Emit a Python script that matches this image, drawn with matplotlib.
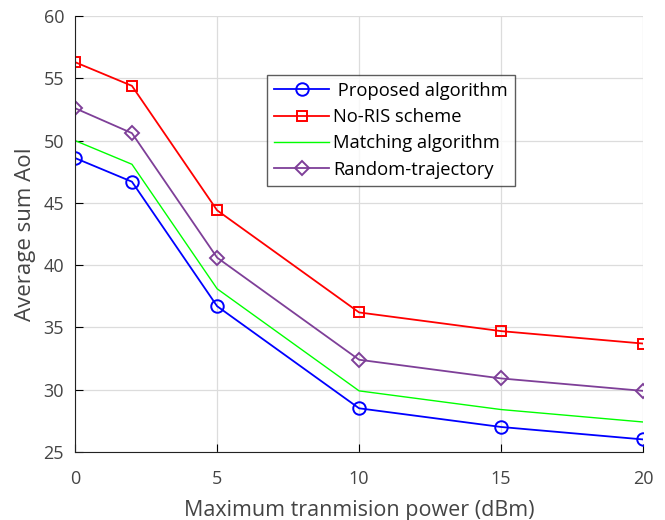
import matplotlib.pyplot as plt

# ── Data ──────────────────────────────────────────────────────────────────────
power_dbm = [0, 2, 5, 10, 15, 20]
proposed = [48.6, 46.7, 36.7, 28.5, 27.0, 26.0]
no_ris = [56.3, 54.4, 44.4, 36.2, 34.7, 33.7]
matching = [50.0, 48.1, 38.1, 29.9, 28.4, 27.4]
random_traj = [52.6, 50.6, 40.6, 32.4, 30.9, 29.9]

x_ticks = [0, 5, 10, 15, 20]
y_ticks = [25, 30, 35, 40, 45, 50, 55, 60]

plt.rcParams['font.family'] = ['Open Sans', 'DejaVu Sans']

fig = plt.figure(figsize=(6.65, 5.2), dpi=100)
ax = fig.add_axes([0.113, 0.131, 0.854, 0.838])

ax.plot(power_dbm, proposed, color='#0000ff', marker='o', markersize=9,
        markerfacecolor='none', markeredgewidth=1.4, lw=1.3, label=' Proposed algorithm')
ax.plot(power_dbm, no_ris, color='#ff0000', marker='s', markersize=7,
        markerfacecolor='none', markeredgewidth=1.4, lw=1.3, label='No-RIS scheme')
ax.plot(power_dbm, matching, color='#00ff00', lw=1.0, label='Matching algorithm')
ax.plot(power_dbm, random_traj, color='#7e3f98', marker='D', markersize=7,
        markerfacecolor='none', markeredgewidth=1.4, lw=1.3, label='Random-trajectory')

ax.set_xlim(0, 20)
ax.set_ylim(25, 60)
ax.set_xticks(x_ticks)
ax.set_yticks(y_ticks)
ax.grid(True, color='#dcdcdc', lw=0.9)
ax.set_axisbelow(True)
ax.tick_params(direction='in', length=6, labelsize=13, labelcolor='#444444', pad=8)
ax.tick_params(axis='x', pad=13)
for side in ['top', 'right']:
    ax.spines[side].set_visible(False)
for side in ['left', 'bottom']:
    ax.spines[side].set_color('#222222')

ax.set_xlabel('Maximum tranmision power (dBm)', fontsize=15.5, color='#444444', labelpad=9)
ax.set_ylabel('Average sum AoI', fontsize=16, color='#444444', labelpad=5)

leg = ax.legend(loc='upper left', bbox_to_anchor=(0.338, 0.866), fontsize=13.2,
                frameon=True, fancybox=False, edgecolor='#333333',
                handlelength=3.0, handletextpad=0.2, borderpad=0.4,
                labelspacing=0.45, borderaxespad=0)
leg.get_frame().set_linewidth(1.0)

fig.savefig('out.png', dpi=100)
